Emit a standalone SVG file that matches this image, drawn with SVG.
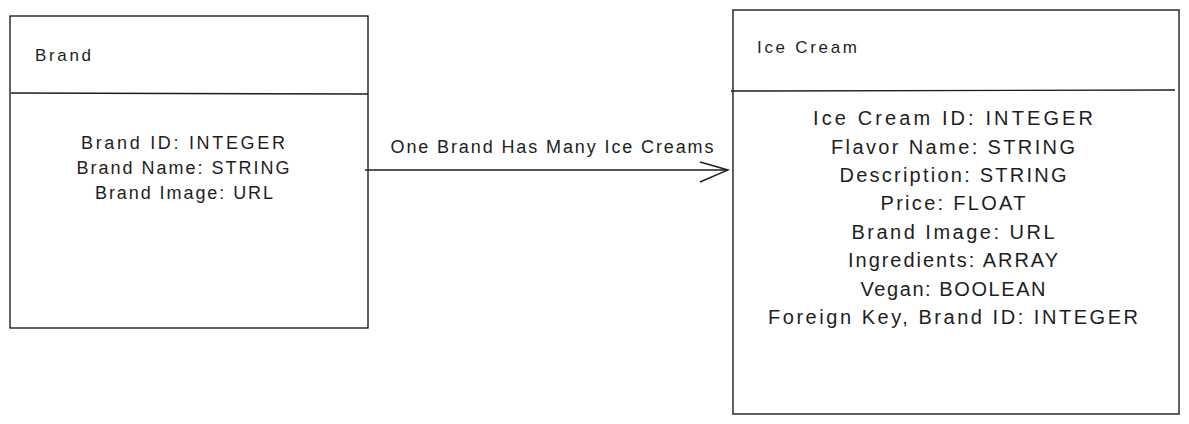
<svg xmlns="http://www.w3.org/2000/svg" width="1189" height="424" viewBox="0 0 1189 424">
  <style>
    .box { fill: #ffffff; stroke: #1e1e1e; stroke-width: 1.4; }
    .rule { stroke: #1e1e1e; stroke-width: 1.4; fill: none; }
    .title { font-family: "Liberation Sans", Arial, sans-serif; font-size: 17px; fill: #1e1e1e; }
    .field { font-family: "Liberation Sans", Arial, sans-serif; fill: #1e1e1e; text-anchor: middle; }
    .small { font-size: 18px; }
    .large { font-size: 20px; }
    .label { font-family: "Liberation Sans", Arial, sans-serif; font-size: 18px; fill: #1e1e1e; text-anchor: middle; }
  </style>
  <rect width="1189" height="424" fill="#ffffff"/>

  <!-- Brand entity -->
  <g id="brand">
    <rect class="box" x="10" y="16" width="358" height="312"/>
    <line class="rule" x1="11" y1="93" x2="368" y2="94"/>
    <text class="title" x="35" y="61" textLength="56">Brand</text>
    <text class="field small" x="183" y="149" textLength="204">Brand ID: INTEGER</text>
    <text class="field small" x="183" y="174" textLength="213">Brand Name: STRING</text>
    <text class="field small" x="184" y="199" textLength="178">Brand Image: URL</text>
  </g>

  <!-- Ice Cream entity -->
  <g id="ice-cream">
    <rect class="box" x="733" y="10" width="446" height="404"/>
    <line class="rule" x1="731" y1="91" x2="1175" y2="90"/>
    <text class="title" x="757" y="53" textLength="100">Ice Cream</text>
    <text class="field large" x="953" y="125" textLength="280">Ice Cream ID: INTEGER</text>
    <text class="field large" x="953" y="154" textLength="244">Flavor Name: STRING</text>
    <text class="field large" x="953" y="182" textLength="227">Description: STRING</text>
    <text class="field large" x="953" y="210" textLength="145">Price: FLOAT</text>
    <text class="field large" x="953" y="239" textLength="203">Brand Image: URL</text>
    <text class="field large" x="953" y="267" textLength="210">Ingredients: ARRAY</text>
    <text class="field large" x="953" y="296" textLength="185">Vegan: BOOLEAN</text>
    <text class="field large" x="953" y="324" textLength="370">Foreign Key, Brand ID: INTEGER</text>
  </g>

  <!-- Relationship -->
  <g id="connectors">
    <line class="rule" x1="365" y1="170" x2="728" y2="170"/>
    <polyline class="rule" points="700,162 728,170 700,182"/>
    <text class="label" x="552" y="153" textLength="323">One Brand Has Many Ice Creams</text>
  </g>
</svg>
